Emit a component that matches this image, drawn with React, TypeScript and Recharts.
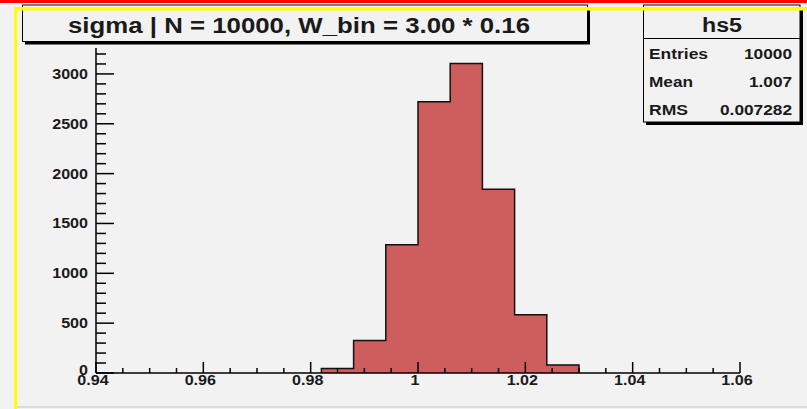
import { ComposedChart, Area, XAxis, YAxis } from "recharts";

const BIN_EDGES = [0.982, 0.988, 0.994, 1.0, 1.006, 1.012, 1.018, 1.024, 1.03];
const BIN_COUNTS = [45, 327, 1287, 2720, 3104, 1844, 584, 80];
const X_LABELS = [0.94, 0.96, 0.98, 1.0, 1.02, 1.04, 1.06];
const Y_LABELS = [0, 500, 1000, 1500, 2000, 2500, 3000];
const STAT_NAMES = ["Entries", "Mean", "RMS"];
const STAT_VALUES = ["10000", "1.007", "0.007282"];
const TITLE = "sigma | N = 10000, W_bin = 3.00 * 0.16";
const HIST_NAME = "hs5";

const X_MIN = 0.94;
const X_MAX = 1.06;
const Y_MAX = 3260;

const FONT = '"Liberation Sans", Arial, Helvetica, sans-serif';
const BG = "#f2f2f2";

// minor ticks: every 0.005 on x, every 100 on y
const xTicks = Array.from({ length: 25 }, (_, i) => Math.round((X_MIN + i * 0.005) * 1000) / 1000);
const yTicks = Array.from({ length: 33 }, (_, i) => i * 100);

// step outline: rise at the first edge, one point per bin, drop at the last edge
const data = [
  { x: BIN_EDGES[0], n: 0 },
  ...BIN_COUNTS.map((n, i) => ({ x: BIN_EDGES[i], n })),
  { x: BIN_EDGES[BIN_EDGES.length - 1], n: 0 },
];

const isMajorX = (v: number) => X_LABELS.some((l) => Math.abs(l - v) < 1e-6);

function XTick({ x, y, payload }: any) {
  const major = isMajorX(payload.value);
  return (
    <g>
      <line x1={x} x2={x} y1={y} y2={y - (major ? 11 : 5)} stroke="#000" strokeWidth={1.5} />
      {major && (
        <text
          transform={`translate(${x - 3},${y + 12}) scale(1.15,1)`}
          textAnchor="middle"
          fontSize={14}
          fontWeight="bold"
          fontFamily={FONT}
          fill="#1a1a1a"
        >
          {String(payload.value)}
        </text>
      )}
    </g>
  );
}

function YTick({ x, y, payload }: any) {
  const major = Y_LABELS.includes(payload.value);
  // ROOT lifts the zero label a little
  const dy = payload.value === 0 ? 2 : 5;
  return (
    <g>
      <line x1={x} x2={x + (major ? 18 : 10)} y1={y} y2={y} stroke="#000" strokeWidth={1.5} />
      {major && (
        <text
          transform={`translate(${x - 8},${y + dy}) scale(1.15,1)`}
          textAnchor="end"
          fontSize={14}
          fontWeight="bold"
          fontFamily={FONT}
          fill="#1a1a1a"
        >
          {String(payload.value)}
        </text>
      )}
    </g>
  );
}

function Overlay() {
  const statW = [59, 44, 39];
  const valW = [48, 43, 72];
  return (
    <svg
      width={807}
      height={409}
      style={{ position: "absolute", left: 0, top: 0, pointerEvents: "none" }}
    >
      {/* title box */}
      <rect x={25} y={8} width={565} height={36.5} fill="#000" />
      <rect x={22.5} y={5} width={565} height={36.5} fill={BG} stroke="#000" strokeWidth={1} />
      <text
        x={68}
        y={33}
        fontSize={22}
        fontWeight="bold"
        fontFamily={FONT}
        fill="#1a1a1a"
        textLength={462}
        lengthAdjust="spacingAndGlyphs"
      >
        {TITLE}
      </text>

      {/* stats box */}
      <rect x={646} y={8} width={157} height={117} fill="#000" />
      <rect x={643.5} y={5} width={156.5} height={117} fill={BG} stroke="#000" strokeWidth={1} />
      <line x1={643.5} x2={800} y1={38.5} y2={38.5} stroke="#000" strokeWidth={1} />
      <text
        x={722}
        y={32}
        textAnchor="middle"
        fontSize={20}
        fontWeight="bold"
        fontFamily={FONT}
        fill="#1a1a1a"
        textLength={40}
        lengthAdjust="spacingAndGlyphs"
      >
        {HIST_NAME}
      </text>
      {STAT_NAMES.map((s, i) => (
        <g key={s}>
          <text
            x={649}
            y={59 + i * 28}
            fontSize={14}
            fontWeight="bold"
            fontFamily={FONT}
            fill="#1a1a1a"
            textLength={statW[i]}
            lengthAdjust="spacingAndGlyphs"
          >
            {s}
          </text>
          <text
            x={792}
            y={59 + i * 28}
            textAnchor="end"
            fontSize={14}
            fontWeight="bold"
            fontFamily={FONT}
            fill="#1a1a1a"
            textLength={valW[i]}
            lengthAdjust="spacingAndGlyphs"
          >
            {STAT_VALUES[i]}
          </text>
        </g>
      ))}

      {/* pad borders */}
      <rect x={0} y={0} width={807} height={3} fill="#ff0000" />
      <rect x={14} y={7} width={793} height={3.5} fill="#ffff00" />
      <rect x={14} y={7} width={3} height={402} fill="#ffff00" />
      <rect x={17} y={406.5} width={790} height={1} fill="#c4c4c4" />
    </svg>
  );
}

export default function App() {
  return (
    <div style={{ position: "absolute", left: 0, top: 0, width: 807, height: 409, background: BG }}>
      <ComposedChart width={807} height={409} data={data} margin={{ top: 48, right: 67, bottom: 0, left: 0 }}>
        <XAxis
          dataKey="x"
          type="number"
          domain={[X_MIN, X_MAX]}
          ticks={xTicks}
          interval={0}
          tick={XTick}
          tickSize={0}
          tickMargin={0}
          tickLine={false}
          axisLine={{ stroke: "#000", strokeWidth: 1.5 }}
          height={36}
          allowDataOverflow
        />
        <XAxis
          xAxisId="top"
          orientation="top"
          type="number"
          domain={[X_MIN, X_MAX]}
          tick={false}
          tickLine={false}
          axisLine={{ stroke: "#000", strokeWidth: 1.2 }}
          height={0}
        />
        <YAxis
          type="number"
          domain={[0, Y_MAX]}
          ticks={yTicks}
          interval={0}
          tick={YTick}
          tickSize={0}
          tickMargin={0}
          tickLine={false}
          axisLine={{ stroke: "#000", strokeWidth: 1.5 }}
          width={96}
          allowDataOverflow
        />
        <YAxis
          yAxisId="right"
          orientation="right"
          type="number"
          domain={[0, Y_MAX]}
          tick={false}
          tickLine={false}
          axisLine={{ stroke: "#000", strokeWidth: 1.5 }}
          width={0}
        />
        <Area
          type="stepAfter"
          dataKey="n"
          stroke="#111"
          strokeWidth={1.5}
          fill="#ce5d5d"
          fillOpacity={1}
          dot={false}
          activeDot={false}
          isAnimationActive={false}
        />
      </ComposedChart>
      <Overlay />
    </div>
  );
}
